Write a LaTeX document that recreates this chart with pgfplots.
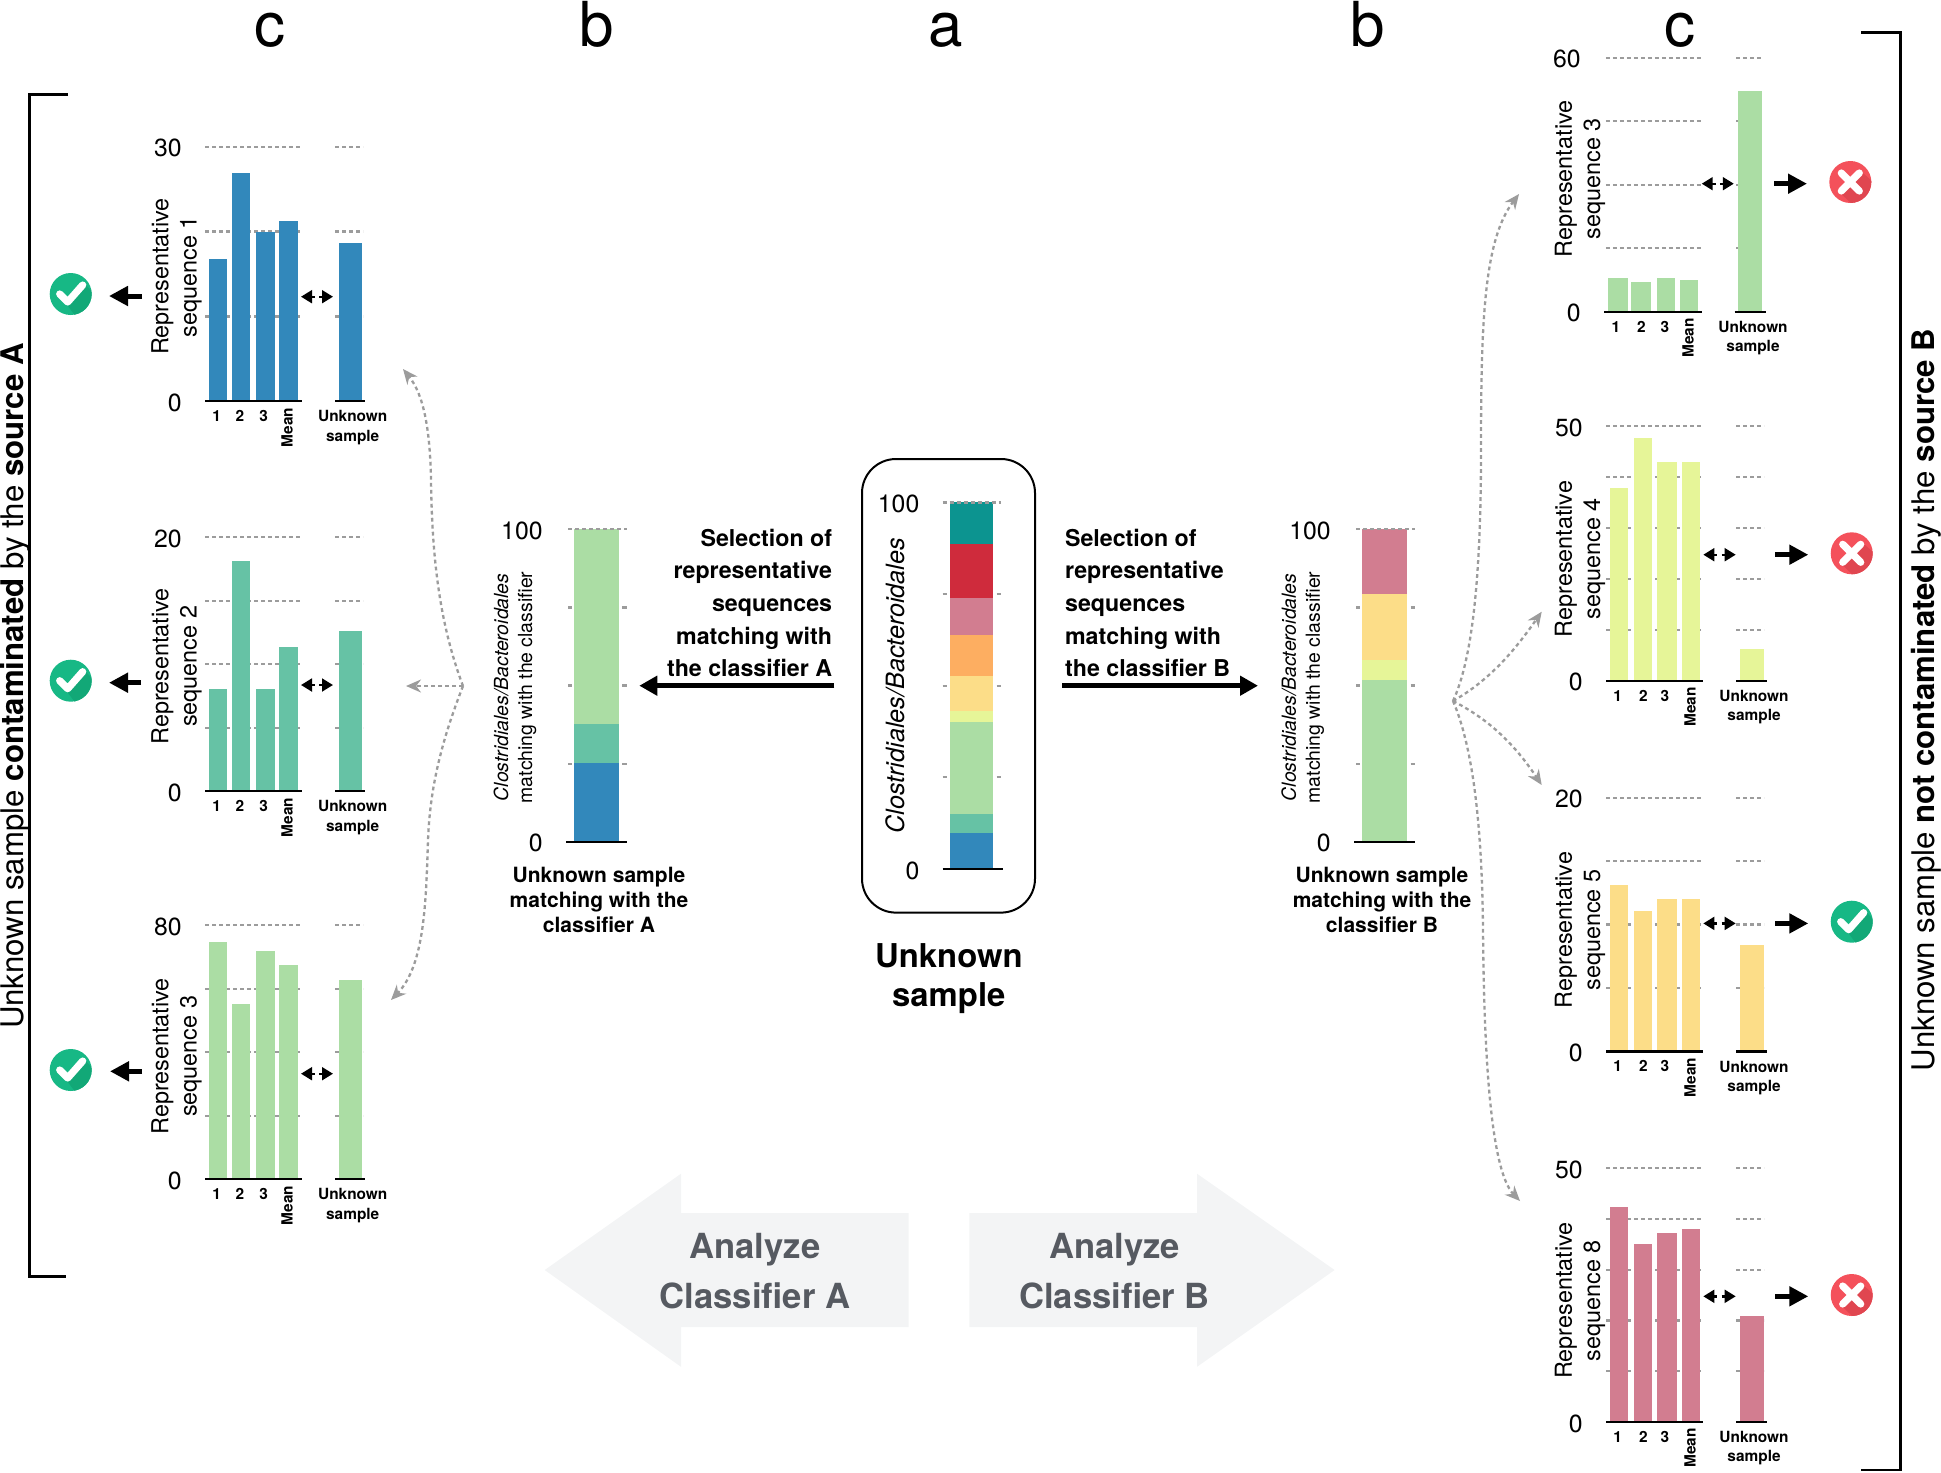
\documentclass[border=0pt]{standalone}
\usepackage{fontspec}
\setmainfont{TeX Gyre Heros}
\usepackage{pgfplots}
\pgfplotsset{compat=1.18}
\usetikzlibrary{arrows.meta}

% all positions are pixels of the 1941x1472 reference, 1 px = 0.5pt
\definecolor{cblue}{HTML}{3288BB}
\definecolor{cteal}{HTML}{66C2A5}
\definecolor{cgreen}{HTML}{ABDDA4}
\definecolor{clime}{HTML}{E6F598}
\definecolor{cyellow}{HTML}{FCDD88}
\definecolor{corange}{HTML}{FDAE61}
\definecolor{cpink}{HTML}{D27D90}
\definecolor{cred}{HTML}{CF2B3C}
\definecolor{cdark}{HTML}{0C9490}
\definecolor{gridgray}{HTML}{9C9C9C}
\definecolor{okgreen}{HTML}{17B885}
\definecolor{okdark}{HTML}{12A877}
\definecolor{nored}{HTML}{F4515B}
\definecolor{nodark}{HTML}{E04650}
\definecolor{bigarrow}{HTML}{F3F4F5}
\definecolor{bigtext}{HTML}{565A61}

\pgfplotsset{
  griddash/.style={draw=gridgray,line width=1.15pt,dash pattern=on 1.9pt off 1.6pt},
  base/.style={scale only axis,clip=false,ymin=0,anchor=south west,
    axis line style={draw=none},major tick length=0pt,
    /pgf/number format/assume math mode=true,
    y tick label style={font=\fontsize{12.4}{14}\selectfont,inner sep=0pt,xshift=-11.5pt,yshift=-0.8pt},
  },
  seq/.style={base,
    x tick label style={font=\fontsize{7.7}{9.6}\selectfont\bfseries,inner sep=0pt,yshift=-4.5pt,align=center},
    xticklabels={1,2,3,\rotatebox{90}{Mean\kern-1.5pt},{Unknown\\sample}},
    y label style={font=\fontsize{11.7}{14.2}\selectfont,align=center,anchor=center},
  },
  seqL/.style={seq,xmin=205,xmax=368,width=81.5pt,xtick={216.7,240,263.7,287,352.7}},
  seqR/.style={seq,xmin=1606,xmax=1768,width=81pt,xtick={1617.7,1643.3,1665,1690,1754}},
  panel/.style={base,ymax=100,height=156.2pt,width=30.5pt,xtick=\empty,ytick={0,100},
    y label style={font=\fontsize{9.7}{12}\selectfont,align=center,anchor=center},
  },
}

\newcommand{\sbar}[4]{\addplot[ybar,bar width=#2,bar shift=0pt,fill=#4,draw=none] coordinates {(#1,#3)};}
\newcommand{\seg}[4]{\addplot[#4] coordinates {(#1,#3)(#2,#3)};}
\newcommand{\gL}[1]{\seg{205}{300}{#1}{griddash}\seg{335}{363}{#1}{griddash}}
\newcommand{\gR}[1]{\seg{1606}{1701.7}{#1}{griddash}\seg{1736}{1764}{#1}{griddash}}
\newcommand{\baseL}{\seg{205}{302}{0}{black,line width=1.1pt}\seg{335}{365}{0}{black,line width=1.1pt}}
\newcommand{\baseR}{\seg{1606}{1703.3}{0}{black,line width=1.1pt}\seg{1736}{1766.7}{0}{black,line width=1.1pt}}
\newcommand{\barsL}[6]{\sbar{218}{17.4}{#2}{#1}\sbar{241}{18}{#3}{#1}\sbar{265.5}{19.6}{#4}{#1}\sbar{288.5}{19.6}{#5}{#1}\sbar{350.8}{23}{#6}{#1}}
\newcommand{\barsR}[6]{\sbar{1619}{18}{#2}{#1}\sbar{1642.7}{18}{#3}{#1}\sbar{1666.7}{20}{#4}{#1}\sbar{1691}{18}{#5}{#1}\sbar{1752}{24}{#6}{#1}}

\newcommand{\okmark}[2]{\begin{scope}[shift={(#1,#2)}]
  \fill[okgreen] (0,0) circle (21);
  \begin{scope}\clip (0,0) circle (21);
    \fill[okdark] (-5,9) -- (13,-11) -- (32,8) -- (12,32) -- cycle;
  \end{scope}
  \draw[white,line width=3.6pt,line cap=round,line join=round] (-11,0) -- (-3,8) -- (12,-9);
\end{scope}}
\newcommand{\nomark}[2]{\begin{scope}[shift={(#1,#2)}]
  \fill[nored] (0,0) circle (21);
  \begin{scope}\clip (0,0) circle (21);
    \fill[nodark] (9,-12) -- (32,8) -- (12,32) -- (-9,12) -- cycle;
  \end{scope}
  \draw[white,line width=3.6pt,line cap=round] (-9,-9) -- (9,9) (-9,9) -- (9,-9);
\end{scope}}
\newcommand{\blk}[3]{\draw[line width=2.5pt,-{Triangle[length=9.5pt,width=9.5pt]}] (#1,#3) -- (#2,#3);}
\newcommand{\dbl}[3]{%
  \draw[line width=1.2pt,{Triangle[length=5.5pt,width=6.4pt]}-] (#1,#3) -- ++(14,0);
  \draw[line width=1.2pt,-{Triangle[length=5.5pt,width=6.4pt]}] (#2-14,#3) -- (#2,#3);}

\begin{document}
\begin{tikzpicture}
\begin{scope}[x=0.5pt,y=-0.5pt]
\path[use as bounding box] (0,0) rectangle (1941,1472);

% panel letters
\foreach \xx/\ll in {270/c,597/b,946/a,1368/b,1680/c}
  \node[anchor=base,inner sep=0pt,font=\fontsize{31}{36}\selectfont] at (\xx,46.5) {\ll};

% brackets and side texts
\draw[line width=1.25pt] (68,94.7) -- (29.3,94.7) -- (29.3,1276.6) -- (65.6,1276.6);
\draw[line width=1.25pt] (1861,32.3) -- (1900.5,32.3) -- (1900.5,1470) -- (1861,1470);
\node[rotate=90,inner sep=0pt,font=\fontsize{15.6}{18}\selectfont] at (15,686)
  {Unknown sample \textbf{contaminated} by the \textbf{source A}};
\node[rotate=90,inner sep=0pt,font=\fontsize{15.6}{18}\selectfont] at (1926,700)
  {Unknown sample \textbf{not contaminated} by the \textbf{source B}};

% big grey arrows
\fill[bigarrow] (544.7,1270) -- (681,1173.7) -- (681,1213) -- (908.7,1213) -- (908.7,1327) -- (681,1327) -- (681,1366.8) -- cycle;
\fill[bigarrow] (1334.6,1270) -- (1197,1173.7) -- (1197,1213) -- (969.4,1213) -- (969.4,1327) -- (1197,1327) -- (1197,1366.8) -- cycle;
\node[font=\fontsize{17.3}{24.7}\selectfont\bfseries,text=bigtext,align=center] at (755,1271) {Analyze\\Classifier A};
\node[font=\fontsize{17.3}{24.7}\selectfont\bfseries,text=bigtext,align=center] at (1114.5,1271) {Analyze\\Classifier B};

% central box
\draw[line width=1pt,rounded corners=17pt] (862,459) rectangle (1035,912.6);
\node[font=\fontsize{16.4}{19.2}\selectfont\bfseries,align=center] at (948.8,978.5) {Unknown\\sample};

% selection texts and main arrows
\node[anchor=east,inner sep=0pt,align=right,font=\fontsize{11.6}{16.35}\selectfont\bfseries] at (832.5,603)
  {Selection of\\representative\\sequences\\matching with\\the classifier A};
\node[anchor=west,inner sep=0pt,align=left,font=\fontsize{11.6}{16.35}\selectfont\bfseries] at (1064.7,603)
  {Selection of\\representative\\sequences\\matching with\\the classifier B};
\draw[line width=2.25pt,-{Triangle[length=9pt,width=9.5pt]}] (834.3,685.7) -- (639.3,685.7);
\draw[line width=2.25pt,-{Triangle[length=9pt,width=9.5pt]}] (1062,685.7) -- (1258,685.7);

\node[font=\fontsize{10.5}{12.65}\selectfont\bfseries,align=center] at (599,900) {Unknown sample\\matching with the\\classifier A};
\node[font=\fontsize{10.5}{12.65}\selectfont\bfseries,align=center] at (1382,900) {Unknown sample\\matching with the\\classifier B};

% curved dotted arrows
\begin{scope}[draw=gridgray,line width=1.15pt,dash pattern=on 1.9pt off 1.6pt,
  -{Stealth[length=7.5pt,width=6.5pt]}]
\draw (463,686) .. controls (440,625) and (432,560) .. (431,480) .. controls (430,430) and (424,395) .. (403,369);
\draw (463,686) -- (406,686);
\draw (463,686) .. controls (440,745) and (430,790) .. (428,840) .. controls (426,900) and (425,965) .. (391,1000);
\draw (1453,701) .. controls (1472,660) and (1481,580) .. (1481,450) .. controls (1481,320) and (1484,240) .. (1519,194);
\draw (1453,701) .. controls (1490,680) and (1515,650) .. (1541.7,611.7);
\draw (1453,701) .. controls (1490,720) and (1515,745) .. (1541.7,785);
\draw (1453,701) .. controls (1472,745) and (1482,820) .. (1483,930) .. controls (1484,1050) and (1490,1170) .. (1520,1201);
\end{scope}

% verdict marks and arrows
\blk{142}{109}{296}\dbl{301}{333}{296.7}\okmark{70.7}{294}
\blk{141}{109}{682.7}\dbl{301}{333}{685}\okmark{70.7}{680.7}
\blk{142}{110}{1071.3}\dbl{301}{333}{1073.7}\okmark{70.7}{1070}
\dbl{1701.7}{1733.8}{183.7}\blk{1774}{1807}{183.7}\nomark{1850.3}{182}
\dbl{1703.3}{1735.7}{554.7}\blk{1775.3}{1808.3}{554.7}\nomark{1851.7}{553.3}
\dbl{1703.3}{1735.7}{923.4}\blk{1775.3}{1808.3}{923.4}\okmark{1851.7}{921.7}
\dbl{1703.3}{1735.7}{1296.3}\blk{1775.3}{1808.3}{1296.3}\nomark{1851.7}{1295}
\end{scope}

% left column, classifier A sequences
\begin{axis}[seqL,at={(102.5pt,-200.65pt)},height=127.3pt,ymax=30,ytick={0,30},
  ylabel={Representative\\sequence 1},y label style={at={(axis cs:176.5,14.7)}}]
\gL{10}\gL{20}\gL{30}
\barsL{cblue}{16.8}{26.9}{19.9}{21.2}{18.6}
\baseL
\end{axis}
\begin{axis}[seqL,at={(102.5pt,-395.65pt)},height=127pt,ymax=20,ytick={0,20},
  ylabel={Representative\\sequence 2},y label style={at={(axis cs:176.5,9.84)}}]
\gL{5}\gL{10}\gL{15}\gL{20}
\barsL{cteal}{8.03}{18.11}{8.03}{11.39}{12.6}
\baseL
\end{axis}
\begin{axis}[seqL,at={(102.5pt,-589.65pt)},height=127pt,ymax=80,ytick={0,80},
  ylabel={Representative\\sequence 3},y label style={at={(axis cs:176.5,38.74)}}]
\gL{20}\gL{40}\gL{60}\gL{80}
\barsL{cgreen}{74.7}{55.2}{71.8}{67.5}{62.7}
\baseL
\end{axis}

% right column, classifier B sequences
\begin{axis}[seq,xmin=1604,xmax=1768,width=82pt,xtick={1615.9,1641.4,1664.8,1688,1753},
  at={(802pt,-155.85pt)},height=127pt,ymax=60,ytick={0,60},
  ylabel={Representative\\sequence 3},y label style={at={(axis cs:1580,31.4)}}]
\foreach \lev in {15,30,45,60}{
  \edef\tmp{\noexpand\seg{1605.9}{1701.7}{\lev}{griddash}\noexpand\seg{1736.2}{1763.8}{\lev}{griddash}}\tmp}
\sbar{1618}{20}{8.03}{cgreen}\sbar{1641.4}{20}{7.09}{cgreen}\sbar{1665.5}{18}{8.03}{cgreen}\sbar{1689}{18}{7.56}{cgreen}\sbar{1749.8}{23.7}{52.06}{cgreen}
\seg{1604}{1701.7}{0}{black,line width=1.1pt}\seg{1734.5}{1765.5}{0}{black,line width=1.1pt}
\end{axis}
\begin{axis}[seqR,at={(803pt,-340.35pt)},height=127.2pt,ymax=50,ytick={0,50},
  ylabel={Representative\\sequence 4},y label style={at={(axis cs:1580,23.92)}}]
\gR{10}\gR{20}\gR{30}\gR{40}\gR{50}
\barsR{clime}{37.9}{47.8}{42.9}{42.9}{6.2}
\baseR
\end{axis}
\begin{axis}[seqR,at={(803pt,-525.7pt)},height=126.85pt,ymax=20,ytick={0,20},
  ylabel={Representative\\sequence 5},y label style={at={(axis cs:1580,9.57)}}]
\gR{5}\gR{10}\gR{15}\gR{20}
\barsR{cyellow}{13.1}{11.07}{12}{12}{8.35}
\baseR
\end{axis}
\begin{axis}[seqR,at={(803pt,-711pt)},height=126.85pt,ymax=50,ytick={0,50},
  ylabel={Representative\\sequence 8},y label style={at={(axis cs:1580,23.92)}}]
\gR{10}\gR{20}\gR{30}\gR{40}\gR{50}
\barsR{cpink}{42.3}{35}{37.3}{38.1}{20.8}
\baseR
\end{axis}

% panel b, classifier A
\begin{axis}[panel,hide axis,ybar stacked,bar width=45,xmin=566,xmax=627,at={(283pt,-420.85pt)}]
\addplot[fill=cblue,draw=none] coordinates {(596.5,25.2)};
\addplot[fill=cteal,draw=none] coordinates {(596.5,12.5)};
\addplot[fill=cgreen,draw=none] coordinates {(596.5,62.3)};
\end{axis}
\begin{axis}[panel,xmin=566,xmax=627,at={(283pt,-420.85pt)},
  ylabel={\textit{Clostridiales/Bacteroidales}\\matching with the classifier},
  y label style={at={(axis cs:515,49.4)}}]
\seg{568.3}{626.7}{100}{griddash}
\foreach \lev in {25,50,75}{
  \edef\tmp{\noexpand\seg{568.3}{572}{\lev}{gridgray,line width=1.1pt}\noexpand\seg{622.3}{626.7}{\lev}{gridgray,line width=1.1pt}}\tmp}
\seg{566}{626.7}{0}{black,line width=1.1pt}
\end{axis}

% panel a, unknown sample
\begin{axis}[panel,hide axis,ybar stacked,bar width=43,xmin=942.7,xmax=1003,width=30.15pt,height=183.3pt,at={(471.35pt,-434.5pt)}]
\addplot[fill=cblue,draw=none] coordinates {(971.8,9.8)};
\addplot[fill=cteal,draw=none] coordinates {(971.8,5.2)};
\addplot[fill=cgreen,draw=none] coordinates {(971.8,25.1)};
\addplot[fill=clime,draw=none] coordinates {(971.8,3.1)};
\addplot[fill=cyellow,draw=none] coordinates {(971.8,9.5)};
\addplot[fill=corange,draw=none] coordinates {(971.8,11)};
\addplot[fill=cpink,draw=none] coordinates {(971.8,10.1)};
\addplot[fill=cred,draw=none] coordinates {(971.8,14.9)};
\addplot[fill=cdark,draw=none] coordinates {(971.8,11.3)};
\end{axis}
\begin{axis}[panel,xmin=942.7,xmax=1003,width=30.15pt,height=183.3pt,at={(471.35pt,-434.5pt)},
  ylabel={\textit{Clostridiales/Bacteroidales}},
  y label style={at={(axis cs:895,50)},font=\fontsize{12.6}{15}\selectfont}]
\seg{942.7}{1001.3}{100}{griddash}
\foreach \lev in {25,50,75}{
  \edef\tmp{\noexpand\seg{942.7}{947.3}{\lev}{gridgray,line width=1.1pt}\noexpand\seg{996.7}{1001.3}{\lev}{gridgray,line width=1.1pt}}\tmp}
\seg{942.7}{1003}{0}{black,line width=1.1pt}
\end{axis}

% panel b, classifier B
\begin{axis}[panel,hide axis,ybar stacked,bar width=45,xmin=1354,xmax=1415,at={(677pt,-420.85pt)}]
\addplot[fill=cgreen,draw=none] coordinates {(1384.4,51.9)};
\addplot[fill=clime,draw=none] coordinates {(1384.4,6.2)};
\addplot[fill=cyellow,draw=none] coordinates {(1384.4,21.2)};
\addplot[fill=cpink,draw=none] coordinates {(1384.4,20.7)};
\end{axis}
\begin{axis}[panel,xmin=1354,xmax=1415,at={(677pt,-420.85pt)},
  ylabel={\textit{Clostridiales/Bacteroidales}\\matching with the classifier},
  y label style={at={(axis cs:1302.8,49.4)}}]
\seg{1356}{1415}{100}{griddash}
\foreach \lev in {25,50,75}{
  \edef\tmp{\noexpand\seg{1356}{1360}{\lev}{gridgray,line width=1.1pt}\noexpand\seg{1410.7}{1415}{\lev}{gridgray,line width=1.1pt}}\tmp}
\seg{1354}{1414.7}{0}{black,line width=1.1pt}
\end{axis}
\end{tikzpicture}
\end{document}
